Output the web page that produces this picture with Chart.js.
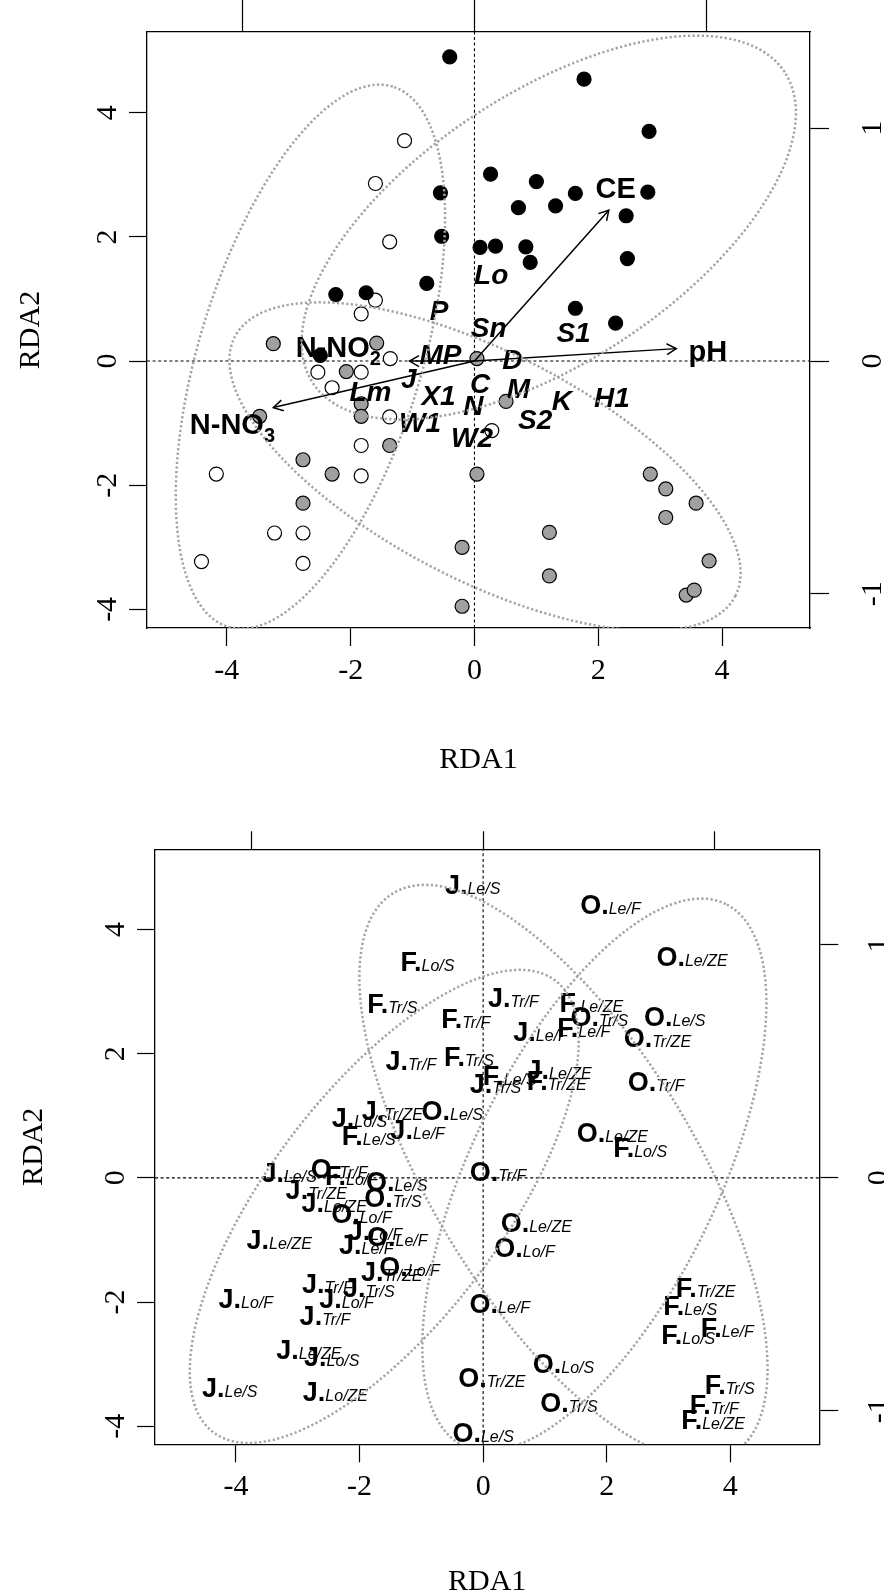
<!DOCTYPE html>
<html lang="en">
<head>
<meta charset="UTF-8" />
<title>RDA biplots</title>
<script src="https://cdn.jsdelivr.net/npm/chart.js@4"></script>
<style>
  body { margin: 0; background: #fff; width: 884px; height: 1593px; overflow: hidden; position: relative; }
  canvas { position: absolute; left: 0; }
  #topChart { top: 0; }
  #bottomChart { top: 800px; }
</style>
</head>
<body>
<canvas id="topChart" width="884" height="800"></canvas>
<canvas id="bottomChart" width="884" height="800"></canvas>
<script>
// ---- tick labels ----
const mainTicks = [-4, -2, 0, 2, 4];
const sideTicks = [-1, 0, 1];
const sideRatio = 3.75; // biplot scaling between primary and secondary axes

// ---- top panel: site scores, three groups ----
const blackX = [-0.40, -0.55, -0.53, 0.09, 0.34, -0.77, -2.24, -1.75, 1.77, 2.82, 0.26, 1.00, 1.63, 2.80, 0.71, 1.31, 2.45, 0.83, 0.90, 2.47, 1.63, 2.28, -2.49];
const blackY = [4.90, 2.71, 2.01, 1.83, 1.85, 1.25, 1.07, 1.10, 4.54, 3.70, 3.01, 2.89, 2.70, 2.72, 2.47, 2.50, 2.34, 1.84, 1.59, 1.65, 0.85, 0.61, 0.09];
const whiteX = [-1.13, -1.60, -1.37, -1.60, -1.83, -1.36, -2.53, -1.83, -2.30, -1.37, -1.83, -4.17, -1.83, -3.23, -2.77, -4.41, -2.77, 0.28];
const whiteY = [3.55, 2.86, 1.92, 0.98, 0.76, 0.04, -0.18, -0.18, -0.43, -0.90, -1.36, -1.82, -1.85, -2.77, -2.77, -3.23, -3.26, -1.12];
const grayX = [0.04, 0.51, 0.04, 2.84, 3.09, 3.58, 3.09, 1.21, 3.79, 1.21, 3.42, 3.55, -3.25, -1.58, -2.07, -1.83, -3.47, -1.83, -1.37, -2.77, -2.30, -2.77, -0.20, -0.20];
const grayY = [0.04, -0.65, -1.82, -1.82, -2.06, -2.29, -2.52, -2.76, -3.22, -3.46, -3.77, -3.69, 0.28, 0.29, -0.17, -0.69, -0.89, -0.89, -1.36, -1.59, -1.82, -2.29, -3.00, -3.95];

// ---- top panel: species ----
const speciesNames = ['P', 'Sn', 'Lo', 'S1', 'D', 'MP', 'J', 'Lm', 'X1', 'C', 'M', 'N', 'K', 'H1', 'W1', 'W2', 'S2'];
const speciesX = [-0.57, 0.23, 0.27, 1.60, 0.61, -0.55, -1.06, -1.68, -0.58, 0.09, 0.71, -0.02, 1.41, 2.22, -0.88, -0.04, 0.98];
const speciesY = [0.82, 0.55, 1.41, 0.47, 0.04, 0.12, -0.28, -0.48, -0.55, -0.36, -0.43, -0.70, -0.63, -0.58, -0.98, -1.22, -0.93];

// ---- top panel: environmental vectors ----
const vecNames = ['CE', 'pH', 'N-NO', 'N-NO'];
const vecSubs = ['', '', '2', '3'];
const vecX = [2.17, 3.26, -1.05, -3.25];
const vecY = [2.43, 0.20, 0.00, -0.75];
const vecLabX = [2.28, 3.77, -2.20, -3.91];
const vecLabY = [2.79, 0.17, 0.24, -1.00];

// ---- top panel: group ellipses (centre x, centre y, semi-axes, angle deg) ----
const topEllCx = [-2.65, 1.20, 0.17];
const topEllCy = [0.07, 2.15, -1.70];
const topEllA = [4.55, 4.56, 4.55];
const topEllB = [1.80, 2.17, 1.83];
const topEllAng = [73, 33.3, -27.3];

// ---- bottom panel: labelled sites ----
const jX = [-0.17, 0.49, 0.93, -1.17, 0.20, 1.23, -2.00, -1.47, -1.06, -3.14, -2.70, -2.41, -1.75, -1.89, -3.30, -1.48, -2.52, -1.85, -3.84, -2.21, -2.56, -2.82, -2.45, -4.10, -2.39];
const jY = [4.73, 2.91, 2.36, 1.90, 1.53, 1.75, 0.98, 1.09, 0.78, 0.09, -0.19, -0.40, -0.84, -1.07, -0.99, -1.51, -1.70, -1.76, -1.94, -1.94, -2.22, -2.76, -2.87, -3.38, -3.43];
const jSub = ['Le/S', 'Tr/F', 'Le/F', 'Tr/F', 'Tr/S', 'Le/ZE', 'Lo/S', 'Tr/ZE', 'Le/F', 'Le/S', 'Tr/ZE', 'Lo/ZE', 'Lo/F', 'Le/F', 'Le/ZE', 'Tr/ZE', 'Tr/F', 'Tr/S', 'Lo/F', 'Lo/F', 'Tr/F', 'Le/ZE', 'Lo/S', 'Le/S', 'Lo/ZE'];
const fX = [-0.90, -1.47, -0.28, 1.75, 1.63, -0.23, 0.43, 1.19, 2.54, -1.85, -2.13, 3.60, 3.35, 3.32, 3.95, 3.99, 3.74, 3.72];
const fY = [3.49, 2.81, 2.57, 2.82, 2.42, 1.95, 1.65, 1.57, 0.50, 0.69, 0.04, -1.77, -2.05, -2.52, -2.41, -3.33, -3.65, -3.89];
const fSub = ['Lo/S', 'Tr/S', 'Tr/F', 'Le/ZE', 'Le/F', 'Tr/S', 'Le/S', 'Tr/ZE', 'Lo/S', 'Le/S', 'Lo/F', 'Tr/ZE', 'Le/S', 'Lo/S', 'Le/F', 'Tr/S', 'Tr/F', 'Le/ZE'];
const oX = [2.06, 3.38, 1.88, 3.10, 2.82, 2.80, 2.09, -0.50, 0.24, -2.33, -1.40, -1.46, -1.97, -1.39, -1.19, 0.86, 0.67, 0.27, 1.30, 0.14, 1.39, 0.00];
const oY = [4.41, 3.57, 2.60, 2.60, 2.26, 1.56, 0.73, 1.09, 0.10, 0.16, -0.05, -0.32, -0.57, -0.94, -1.43, -0.72, -1.12, -2.02, -2.99, -3.21, -3.62, -4.10];
const oSub = ['Le/F', 'Le/ZE', 'Tr/S', 'Le/S', 'Tr/ZE', 'Tr/F', 'Le/ZE', 'Le/S', 'Tr/F', 'Tr/F', 'Le/S', 'Tr/S', 'Lo/F', 'Le/F', 'Lo/F', 'Le/ZE', 'Lo/F', 'Le/F', 'Lo/S', 'Tr/ZE', 'Tr/S', 'Le/S'];

// ---- bottom panel: group ellipses ----
const botEllCx = [-1.60, 1.30, 1.80];
const botEllCy = [-0.46, 0.08, 0.05];
const botEllA = [4.57, 5.28, 4.85];
const botEllB = [1.88, 2.13, 2.00];
const botEllAng = [52.7, -58.5, 64];

const SERIF = '"Liberation Serif", "Times New Roman", serif';
const SANS = '"Liberation Sans", Arial, sans-serif';
Chart.defaults.color = '#000';

const zip = (xs, ys) => xs.map((x, i) => ({ x: x, y: ys[i] }));

function ellipse(cx, cy, a, b, deg) {
  const t = deg * Math.PI / 180, pts = [];
  for (let i = 0; i <= 160; i++) {
    const u = 2 * Math.PI * i / 160;
    pts.push({
      x: cx + a * Math.cos(u) * Math.cos(t) - b * Math.sin(u) * Math.sin(t),
      y: cy + a * Math.cos(u) * Math.sin(t) + b * Math.sin(u) * Math.cos(t)
    });
  }
  return pts;
}

function ellipseSets(cx, cy, a, b, ang) {
  return cx.map((c, i) => ({
    data: ellipse(c, cy[i], a[i], b[i], ang[i]),
    showLine: true, pointRadius: 0, borderColor: '#a3a3a3', borderWidth: 2.5,
    borderDash: [2.2, 2.4], fill: false, order: 1
  }));
}

function refLines(b) {
  const st = { showLine: true, pointRadius: 0, borderColor: '#000', borderWidth: 1.1, borderDash: [3, 2.6], order: 9 };
  return [
    Object.assign({ data: [{ x: 0, y: b.yMin }, { x: 0, y: b.yMax }] }, st),
    Object.assign({ data: [{ x: b.xMin, y: 0 }, { x: b.xMax, y: 0 }] }, st)
  ];
}

// text drawn at the library's element positions
function drawLabel(ctx, ds, i, x, y) {
  ctx.fillStyle = '#000';
  ctx.textBaseline = 'alphabetic';
  if (ds.kind === 'species') {
    ctx.font = 'bold italic 28px ' + SANS;
    ctx.textAlign = 'center';
    ctx.fillText(ds.names[i], x, y + 10);
  } else if (ds.kind === 'vector') {
    const main = 'bold 29px ' + SANS, small = 'bold 20px ' + SANS;
    ctx.font = main; const w1 = ctx.measureText(ds.names[i]).width;
    ctx.font = small; const w2 = ds.subs[i] ? ctx.measureText(ds.subs[i]).width : 0;
    const x0 = x - (w1 + w2) / 2, base = y + 10.4;
    ctx.textAlign = 'left';
    ctx.font = main; ctx.fillText(ds.names[i], x0, base);
    if (ds.subs[i]) { ctx.font = small; ctx.fillText(ds.subs[i], x0 + w1, base + 8); }
  } else if (ds.kind === 'site') {
    const big = 'bold 27px ' + SANS, small = 'italic 16px ' + SANS;
    const head = ds.letter + '.';
    ctx.font = big; const w1 = ctx.measureText(head).width;
    ctx.font = small; const w2 = ctx.measureText(ds.subs[i]).width;
    const x0 = x - (w1 + w2) / 2, base = y + 9.7;
    ctx.textAlign = 'left';
    ctx.font = big; ctx.fillText(head, x0, base);
    ctx.font = small; ctx.fillText(ds.subs[i], x0 + w1, base);
  }
}

const markPlugin = {
  id: 'marks',
  afterDatasetDraw(chart, args) {
    const ds = chart.data.datasets[args.index];
    const pts = args.meta.data;
    const ctx = chart.ctx;
    ctx.save();
    if (ds.arrow) {
      const p0 = pts[0], p1 = pts[1];
      const ang = Math.atan2(p1.y - p0.y, p1.x - p0.x), len = 11, spread = Math.PI / 6;
      ctx.strokeStyle = '#000';
      ctx.lineWidth = 1.5;
      ctx.beginPath();
      ctx.moveTo(p1.x - len * Math.cos(ang - spread), p1.y - len * Math.sin(ang - spread));
      ctx.lineTo(p1.x, p1.y);
      ctx.lineTo(p1.x - len * Math.cos(ang + spread), p1.y - len * Math.sin(ang + spread));
      ctx.stroke();
    }
    if (ds.kind) pts.forEach((p, i) => drawLabel(ctx, ds, i, p.x, p.y));
    ctx.restore();
  }
};

function buildScales(b) {
  const tickFont = { family: SERIF, size: 30 };
  const titleFont = { family: SERIF, size: 30, lineHeight: 1 };
  const border = { display: true, color: '#000', width: 1.3 };
  const grid = len => ({ drawOnChartArea: false, drawTicks: true, tickLength: len, tickColor: '#000', tickWidth: 1.2 });
  const setTicks = vals => s => { s.ticks = vals.map(v => ({ value: v })); };
  return {
    x: {
      type: 'linear', position: 'bottom', min: b.xMin, max: b.xMax,
      afterBuildTicks: setTicks(mainTicks),
      afterFit: s => { s.height = b.bottom; s.paddingLeft = 0; s.paddingRight = 0; },
      ticks: { font: tickFont, color: '#000', padding: 7, autoSkip: false, minRotation: 0, maxRotation: 0, callback: v => String(v) },
      grid: grid(18), border: border,
      title: { display: true, text: 'RDA1', font: titleFont, color: '#000', padding: { top: 0, bottom: b.xTitlePad } }
    },
    x2: {
      type: 'linear', position: 'top', min: b.xMin / sideRatio, max: b.xMax / sideRatio,
      afterBuildTicks: setTicks(sideTicks),
      afterFit: s => { s.height = b.top; s.paddingLeft = 0; s.paddingRight = 0; },
      ticks: { display: false }, grid: grid(b.topTick), border: border
    },
    y: {
      type: 'linear', position: 'left', min: b.yMin, max: b.yMax,
      afterBuildTicks: setTicks(mainTicks),
      afterFit: s => { s.width = b.left; s.paddingTop = 0; s.paddingBottom = 0; },
      ticks: { font: tickFont, color: '#000', padding: 8, autoSkip: false, minRotation: 90, maxRotation: 90, crossAlign: 'center', callback: v => String(v) },
      grid: grid(18), border: border,
      title: { display: true, text: 'RDA2', font: titleFont, color: '#000', padding: { top: b.yTitlePad, bottom: 0 } }
    },
    y2: {
      type: 'linear', position: 'right', min: b.yMin / sideRatio, max: b.yMax / sideRatio,
      afterBuildTicks: setTicks(sideTicks),
      afterFit: s => { s.width = b.right; s.paddingTop = 0; s.paddingBottom = 0; },
      ticks: { font: tickFont, color: '#000', padding: b.rightPad, autoSkip: false, minRotation: 90, maxRotation: 90, crossAlign: 'center', callback: v => String(v) },
      grid: grid(19), border: border
    }
  };
}

const baseOptions = scales => ({
  responsive: false, animation: false, events: [],
  layout: { padding: 0 },
  plugins: { legend: { display: false }, tooltip: { enabled: false } },
  scales: scales
});

// ---- top chart ----
const topBox = { xMin: -5.29, xMax: 5.42, yMin: -4.30, yMax: 5.30, left: 147, right: 74, top: 32, bottom: 172, topTick: 32, rightPad: 32, xTitlePad: 25, yTitlePad: 16 };
const pointStyle = fill => ({ pointRadius: 7, pointBackgroundColor: fill, pointBorderColor: '#000', pointBorderWidth: 1.2, showLine: false, order: 8 });

const topSets = [].concat(
  ellipseSets(topEllCx, topEllCy, topEllA, topEllB, topEllAng),
  [{ data: zip(vecLabX, vecLabY), pointRadius: 0, kind: 'vector', names: vecNames, subs: vecSubs, order: 2 }],
  vecX.map((x, i) => ({ data: [{ x: 0, y: 0 }, { x: x, y: vecY[i] }], showLine: true, pointRadius: 0, borderColor: '#000', borderWidth: 1.5, arrow: true, order: 3 })),
  [{ data: zip(speciesX, speciesY), pointRadius: 0, kind: 'species', names: speciesNames, order: 4 }],
  [Object.assign({ data: zip(blackX, blackY) }, pointStyle('#000'))],
  [Object.assign({ data: zip(whiteX, whiteY) }, pointStyle('#fff'))],
  [Object.assign({ data: zip(grayX, grayY) }, pointStyle('#a0a0a0'))],
  refLines(topBox)
);

new Chart(document.getElementById('topChart'), {
  type: 'scatter',
  data: { datasets: topSets },
  options: baseOptions(buildScales(topBox)),
  plugins: [markPlugin]
});

// ---- bottom chart ----
const botBox = { xMin: -5.31, xMax: 5.44, yMin: -4.29, yMax: 5.29, left: 155, right: 64.7, top: 49.3, bottom: 155.7, topTick: 18, rightPad: 28, xTitlePad: 3, yTitlePad: 19 };
const siteSet = (xs, ys, letter, subs) => ({ data: zip(xs, ys), pointRadius: 0, kind: 'site', letter: letter, subs: subs, order: 5 });

const botSets = [].concat(
  ellipseSets(botEllCx, botEllCy, botEllA, botEllB, botEllAng),
  [siteSet(oX, oY, 'O', oSub), siteSet(fX, fY, 'F', fSub), siteSet(jX, jY, 'J', jSub)],
  refLines(botBox)
);

new Chart(document.getElementById('bottomChart'), {
  type: 'scatter',
  data: { datasets: botSets },
  options: baseOptions(buildScales(botBox)),
  plugins: [markPlugin]
});
</script>
</body>
</html>
